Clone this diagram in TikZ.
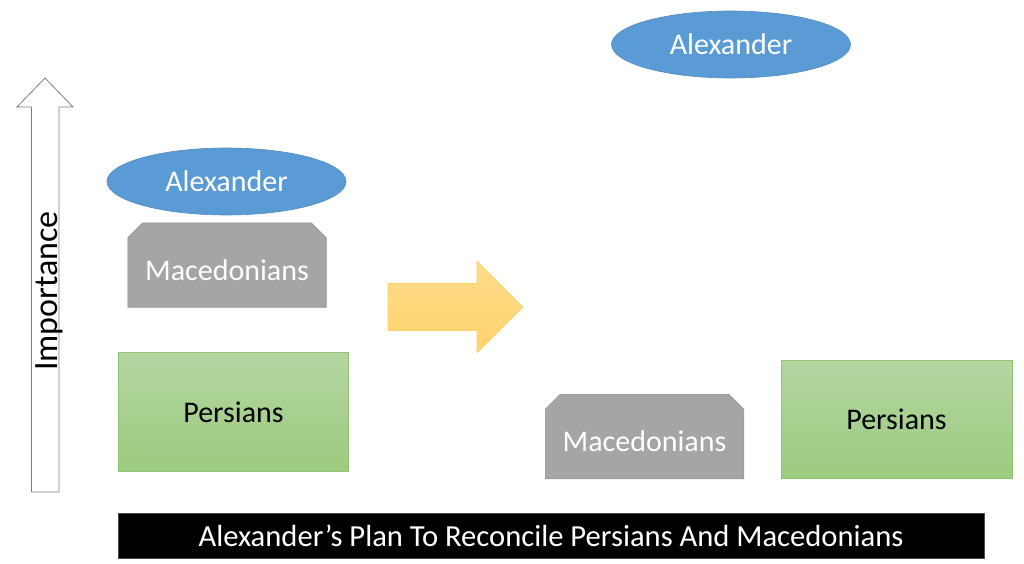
\documentclass[tikz,border=0pt]{standalone}
\usepackage{fontspec}
\setmainfont{Carlito}
\usetikzlibrary{shapes.geometric,backgrounds,calc}
\definecolor{alexblue}{HTML}{5B9BD5}
\definecolor{macgray}{HTML}{A5A5A5}
\definecolor{macedge}{HTML}{8C8C8C}
\definecolor{pertop}{HTML}{B3D6A1}
\definecolor{perbot}{HTML}{9DCA80}
\definecolor{peredge}{HTML}{93C473}
\definecolor{goldtop}{HTML}{FFDC8C}
\definecolor{goldbot}{HTML}{FFD36C}
\definecolor{goldedge}{HTML}{FFD266}
\definecolor{impedge}{HTML}{7F7F7F}
\tikzset{
  txt/.style={font=\fontsize{30}{36}\selectfont},
  alexnode/.style={ellipse, fill=alexblue, draw=alexblue!90!black, line width=0.6pt,
    minimum width=239pt, minimum height=67pt, inner sep=0pt, text=white, txt},
  macnode/.style={rectangle, inner sep=0pt,
    minimum width=198pt, minimum height=84pt, text=white, txt, text height=30pt, text depth=0pt},
  macfill/.style={fill=macgray, draw=macedge, line width=0.6pt},
  pernode/.style={rectangle, top color=pertop, bottom color=perbot, draw=peredge, line width=0.6pt,
    inner sep=0pt, minimum width=230pt, minimum height=119pt, text=black, txt},
}
\newcommand{\snipbox}[1]{%
  \begin{scope}[on background layer]
  \path[macfill] (#1.south west) -- ($(#1.north west)+(0,15)$) -- ($(#1.north west)+(15,0)$)
    -- ($(#1.north east)+(-15,0)$) -- ($(#1.north east)+(0,15)$) -- (#1.south east) -- cycle;
  \end{scope}}
\begin{document}
\begin{tikzpicture}[x=1pt,y=-1pt]
\useasboundingbox (0,0) rectangle (1024,564);
% importance arrow
\draw[draw=impedge, fill=white, line width=0.8pt]
  (31.5,492) -- (31.5,107) -- (17,107) -- (45,78) -- (73,107) -- (59,107) -- (59,492) -- cycle;
\node[rotate=90, font=\fontsize{34}{40}\selectfont] (imp) at (49,291) {Importance};
% left column
\node[alexnode] (alexL) at (226.5,181.5) {Alexander};
\node[macnode] (macL) at (227,265) {Macedonians};
\snipbox{macL}
\node[pernode] (perL) at (233.5,412) {Persians};
% transition arrow
\draw[draw=goldedge, top color=goldtop, bottom color=goldbot, line width=0.6pt]
  (388,283.5) -- (477,283.5) -- (477,261) -- (523,307) -- (477,353) -- (477,330.5) -- (388,330.5) -- cycle;
% right column
\node[alexnode] (alexR) at (731,44.5) {Alexander};
\node[macnode] (macR) at (644.5,436.5) {Macedonians};
\snipbox{macR}
\node[pernode, minimum width=231pt, minimum height=118pt] (perR) at (896.5,419) {Persians};
% banner
\node[rectangle, fill=black, draw=black!70, line width=0.5pt, minimum width=866pt, minimum height=45pt,
  inner sep=0pt, text=white, font=\fontsize{30.6}{36}\selectfont] (banner) at (551,536) {Alexander’s Plan To Reconcile Persians And Macedonians};
\end{tikzpicture}
\end{document}
